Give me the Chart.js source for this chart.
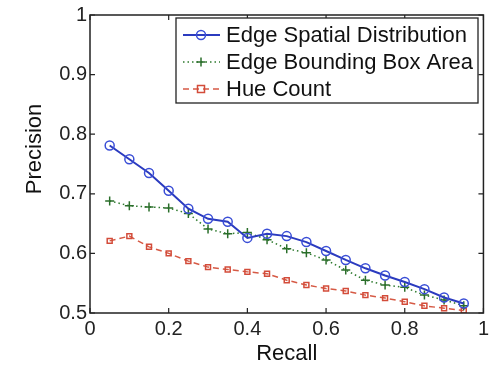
<!DOCTYPE html>
<html>
<head>
<meta charset="utf-8">
<script src="https://cdn.jsdelivr.net/npm/chart.js@4.4.0/dist/chart.umd.min.js"></script>
<style>
html, body { margin: 0; padding: 0; background: #fff; }
</style>
</head>
<body>
<canvas id="pr-chart" width="493" height="369"></canvas>
<script>
//recall values shared by the three curves
const recall = [0.05, 0.1, 0.15, 0.2, 0.25, 0.3, 0.35, 0.4, 0.45, 0.5, 0.55, 0.6, 0.65, 0.7, 0.75, 0.8, 0.85, 0.9, 0.95];
//precision for each descriptor
const spatialPrecision = [0.781, 0.758, 0.735, 0.705, 0.675, 0.658, 0.653, 0.626, 0.633, 0.629, 0.619, 0.604, 0.589, 0.575, 0.563, 0.552, 0.540, 0.526, 0.516];
const bboxPrecision = [0.688, 0.680, 0.678, 0.676, 0.667, 0.641, 0.633, 0.635, 0.623, 0.608, 0.601, 0.589, 0.572, 0.555, 0.547, 0.543, 0.530, 0.522, 0.512];
const huePrecision = [0.621, 0.629, 0.611, 0.600, 0.587, 0.577, 0.573, 0.569, 0.566, 0.555, 0.547, 0.541, 0.537, 0.530, 0.525, 0.519, 0.512, 0.508, 0.504];
const seriesNames = ['Edge Spatial Distribution', 'Edge Bounding Box Area', 'Hue Count'];
//axis ticks
const xTicks = [0, 0.2, 0.4, 0.6, 0.8, 1];
const yTicks = [0.5, 0.6, 0.7, 0.8, 0.9, 1];

const fontFamily = "'Liberation Sans', Arial, Helvetica, sans-serif";
const axisColour = '#222';

//turns two arrays into x/y points
function toPoints(xs, ys) {
    return xs.map((x, i) => ({x: x, y: ys[i]}));
}

//draws the legend sample marker in the same style as the dataset
function drawMarker(ctx, style, x, y) {
    ctx.beginPath();
    if (style === 'circle') {
        ctx.arc(x, y, 4.5, 0, Math.PI * 2);
    } else if (style === 'cross') {
        ctx.moveTo(x - 4.5, y); ctx.lineTo(x + 4.5, y);
        ctx.moveTo(x, y - 4.5); ctx.lineTo(x, y + 4.5);
    } else {
        ctx.rect(x - 3.5, y - 3.5, 7, 7);
    }
    ctx.stroke();
}

//matlab style box, inward ticks, legend and y title
const matlabFrame = {
    id: 'matlabFrame',
    afterDraw(chart) {
        const ctx = chart.ctx;
        const area = chart.chartArea;
        const xs = chart.scales.x;
        const ys = chart.scales.y;
        ctx.save();
        ctx.strokeStyle = axisColour;
        ctx.lineWidth = 1.5;
        ctx.strokeRect(area.left, area.top, area.right - area.left, area.bottom - area.top);
        ctx.lineWidth = 1.2;
        ctx.beginPath();
        xTicks.forEach(v => {
            let px = xs.getPixelForValue(v);
            ctx.moveTo(px, area.bottom); ctx.lineTo(px, area.bottom - 5);
            ctx.moveTo(px, area.top); ctx.lineTo(px, area.top + 5);
        });
        yTicks.forEach(v => {
            let py = ys.getPixelForValue(v);
            ctx.moveTo(area.left, py); ctx.lineTo(area.left + 5, py);
            ctx.moveTo(area.right, py); ctx.lineTo(area.right - 5, py);
        });
        ctx.stroke();

        //y axis title
        ctx.save();
        ctx.translate(35, 149);
        ctx.rotate(-Math.PI / 2);
        ctx.fillStyle = '#111';
        ctx.font = '22px ' + fontFamily;
        ctx.textAlign = 'center';
        ctx.textBaseline = 'middle';
        ctx.fillText('Precision', 0, 0);
        ctx.restore();

        //legend box
        const box = {x: 176, y: 18, w: 302, h: 85};
        ctx.fillStyle = '#fff';
        ctx.fillRect(box.x, box.y, box.w, box.h);
        ctx.strokeStyle = axisColour;
        ctx.lineWidth = 1.3;
        ctx.strokeRect(box.x, box.y, box.w, box.h);
        const rows = [35, 62, 89];
        chart.data.datasets.forEach((ds, i) => {
            let y = rows[i];
            ctx.strokeStyle = ds.borderColor;
            ctx.lineWidth = ds.borderWidth;
            ctx.setLineDash(ds.borderDash || []);
            ctx.beginPath();
            ctx.moveTo(183, y); ctx.lineTo(220, y);
            ctx.stroke();
            ctx.setLineDash([]);
            ctx.strokeStyle = ds.pointBorderColor;
            ctx.lineWidth = ds.pointBorderWidth;
            drawMarker(ctx, ds.pointStyle, 201, y);
            ctx.fillStyle = '#111';
            ctx.font = '22px ' + fontFamily;
            ctx.textAlign = 'left';
            ctx.textBaseline = 'middle';
            ctx.fillText(ds.label, 226, y + 1);
        });
        ctx.restore();
    }
};

new Chart(document.getElementById('pr-chart').getContext('2d'), {
    type: 'line',
    data: {
        datasets: [{
            label: seriesNames[0],
            data: toPoints(recall, spatialPrecision),
            borderColor: '#2b3bbf',
            borderWidth: 2,
            pointStyle: 'circle',
            pointRadius: 4.5,
            pointBorderColor: '#3a4ed6',
            pointBorderWidth: 1.5,
            pointBackgroundColor: 'rgba(0,0,0,0)'
        }, {
            label: seriesNames[1],
            data: toPoints(recall, bboxPrecision),
            borderColor: '#2f7a2f',
            borderWidth: 1.5,
            borderDash: [1.5, 3],
            pointStyle: 'cross',
            pointRadius: 4.5,
            pointBorderColor: '#2a6e2a',
            pointBorderWidth: 1.5
        }, {
            label: seriesNames[2],
            data: toPoints(recall, huePrecision),
            borderColor: '#d65a45',
            borderWidth: 1.5,
            borderDash: [6, 4],
            pointStyle: 'rect',
            pointRadius: 3.5,
            pointBorderColor: '#d34c3a',
            pointBorderWidth: 1.5,
            pointBackgroundColor: 'rgba(0,0,0,0)'
        }]
    },
    options: {
        responsive: false,
        animation: false,
        devicePixelRatio: 1,
        layout: {padding: {left: 0, right: 7, top: 14, bottom: 2}},
        plugins: {legend: {display: false}, tooltip: {enabled: false}},
        elements: {line: {tension: 0}},
        scales: {
            x: {
                type: 'linear',
                min: 0,
                max: 1,
                afterBuildTicks: s => { s.ticks = xTicks.map(v => ({value: v})); },
                afterFit: s => { s.height = 369 - 2 - 313; },
                grid: {display: false, drawTicks: false},
                border: {display: false},
                ticks: {
                    font: {size: 20, family: fontFamily},
                    color: axisColour,
                    padding: 4,
                    maxRotation: 0,
                    callback: v => String(+v.toFixed(1))
                },
                title: {display: true, text: 'Recall', color: '#111', padding: 0, font: {size: 22, family: fontFamily}}
            },
            y: {
                type: 'linear',
                min: 0.5,
                max: 1,
                afterBuildTicks: s => { s.ticks = yTicks.map(v => ({value: v})); },
                afterFit: s => { s.width = 90; },
                grid: {display: false, drawTicks: false},
                border: {display: false},
                ticks: {
                    font: {size: 20, family: fontFamily},
                    color: axisColour,
                    padding: 3,
                    callback: v => String(+v.toFixed(1))
                }
            }
        }
    },
    plugins: [matlabFrame]
});
</script>
</body>
</html>
